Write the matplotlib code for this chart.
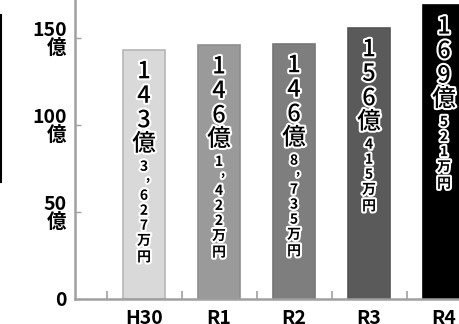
import matplotlib
matplotlib.use("Agg")
import matplotlib.pyplot as plt
import matplotlib.patheffects as pe
from matplotlib.lines import Line2D

plt.rcParams['font.family'] = ['Noto Sans CJK JP', 'DejaVu Sans']

categories = ["H30", "R1", "R2", "R3", "R4"]
values = [143.3627, 146.1422, 146.8735, 156.0415, 169.0521]
big_text = ["143億", "146億", "146億", "156億", "169億"]
small_text = ["3，627万円", "1，422万円", "8，735万円", "415万円", "521万円"]
colors = ["#d9d9d9", "#9a9a9a", "#7e7e7e", "#5a5a5a", "#000000"]
edges = ["#b5b5b5", "#8e8e8e", "#767676", "#555555", "#000000"]
ytick_vals = [0, 50, 100, 150]
ytick_labels = ["0", "50\n億", "100\n億", "150\n億"]

W, H = 459, 324
fig = plt.figure(figsize=(W / 100, H / 100), dpi=100)
ax = fig.add_axes([75 / W, 25 / H, 1 - 75 / W, 1 - 25 / H])

x = list(range(len(categories)))
ax.bar(x, values, width=0.57, color=colors, edgecolor=edges, linewidth=1.2, zorder=2)

for s in ["top", "right"]:
    ax.spines[s].set_visible(False)
for s in ["left", "bottom"]:
    ax.spines[s].set_color("#a0a0a0")
    ax.spines[s].set_linewidth(1.8)

ax.set_yticks(ytick_vals)
ax.set_yticklabels(ytick_labels, fontsize=14, fontweight="bold", linespacing=0.9)
ax.tick_params(axis="y", direction="in", length=4, width=1, color="#a0a0a0", pad=6)

ax.set_xticks([i + 0.5 for i in range(-1, len(categories))])
ax.set_xticklabels([])
ax.set_xticks(x, minor=True)
ax.set_xticklabels(categories, minor=True, fontsize=14, fontweight="bold")
ax.tick_params(axis="x", which="major", direction="in", length=6, width=1.2, color="#a0a0a0")
ax.tick_params(axis="x", which="minor", length=0, pad=7)

ax.set_xlim(-0.92, 4.2)
ax.set_ylim(0, 172)

stroke = [pe.withStroke(linewidth=3, foreground="white")]

for i, (v, bt, st) in enumerate(zip(values, big_text, small_text)):
    off = 22
    for j, ch in enumerate(bt):
        if ch == "億":
            off -= 1
        ax.annotate(ch, xy=(i, v), xytext=(0, -off), textcoords="offset pixels",
                    ha="center", va="center", fontsize=17, fontweight="medium",
                    color="black", path_effects=stroke, zorder=5)
        off += 24.5
    off -= 2
    for ch in st:
        if ch == "，":
            ax.annotate(",", xy=(i, v), xytext=(4, -(off - 5)), textcoords="offset pixels",
                        ha="center", va="center", fontsize=9, fontweight="bold",
                        color="black", path_effects=stroke, zorder=5)
            off += 14
            continue
        ax.annotate(ch, xy=(i, v), xytext=(0, -off), textcoords="offset pixels",
                    ha="center", va="center", fontsize=10, fontweight="bold",
                    color="black", path_effects=stroke, zorder=5)
        off += 16.5 if ch in "万円" else 15

fig.add_artist(Line2D([1 / W, 1 / W], [1 - 15 / H, 1 - 182 / H], color="black",
                      linewidth=1.5, transform=fig.transFigure))

fig.savefig("out.png", dpi=100)
